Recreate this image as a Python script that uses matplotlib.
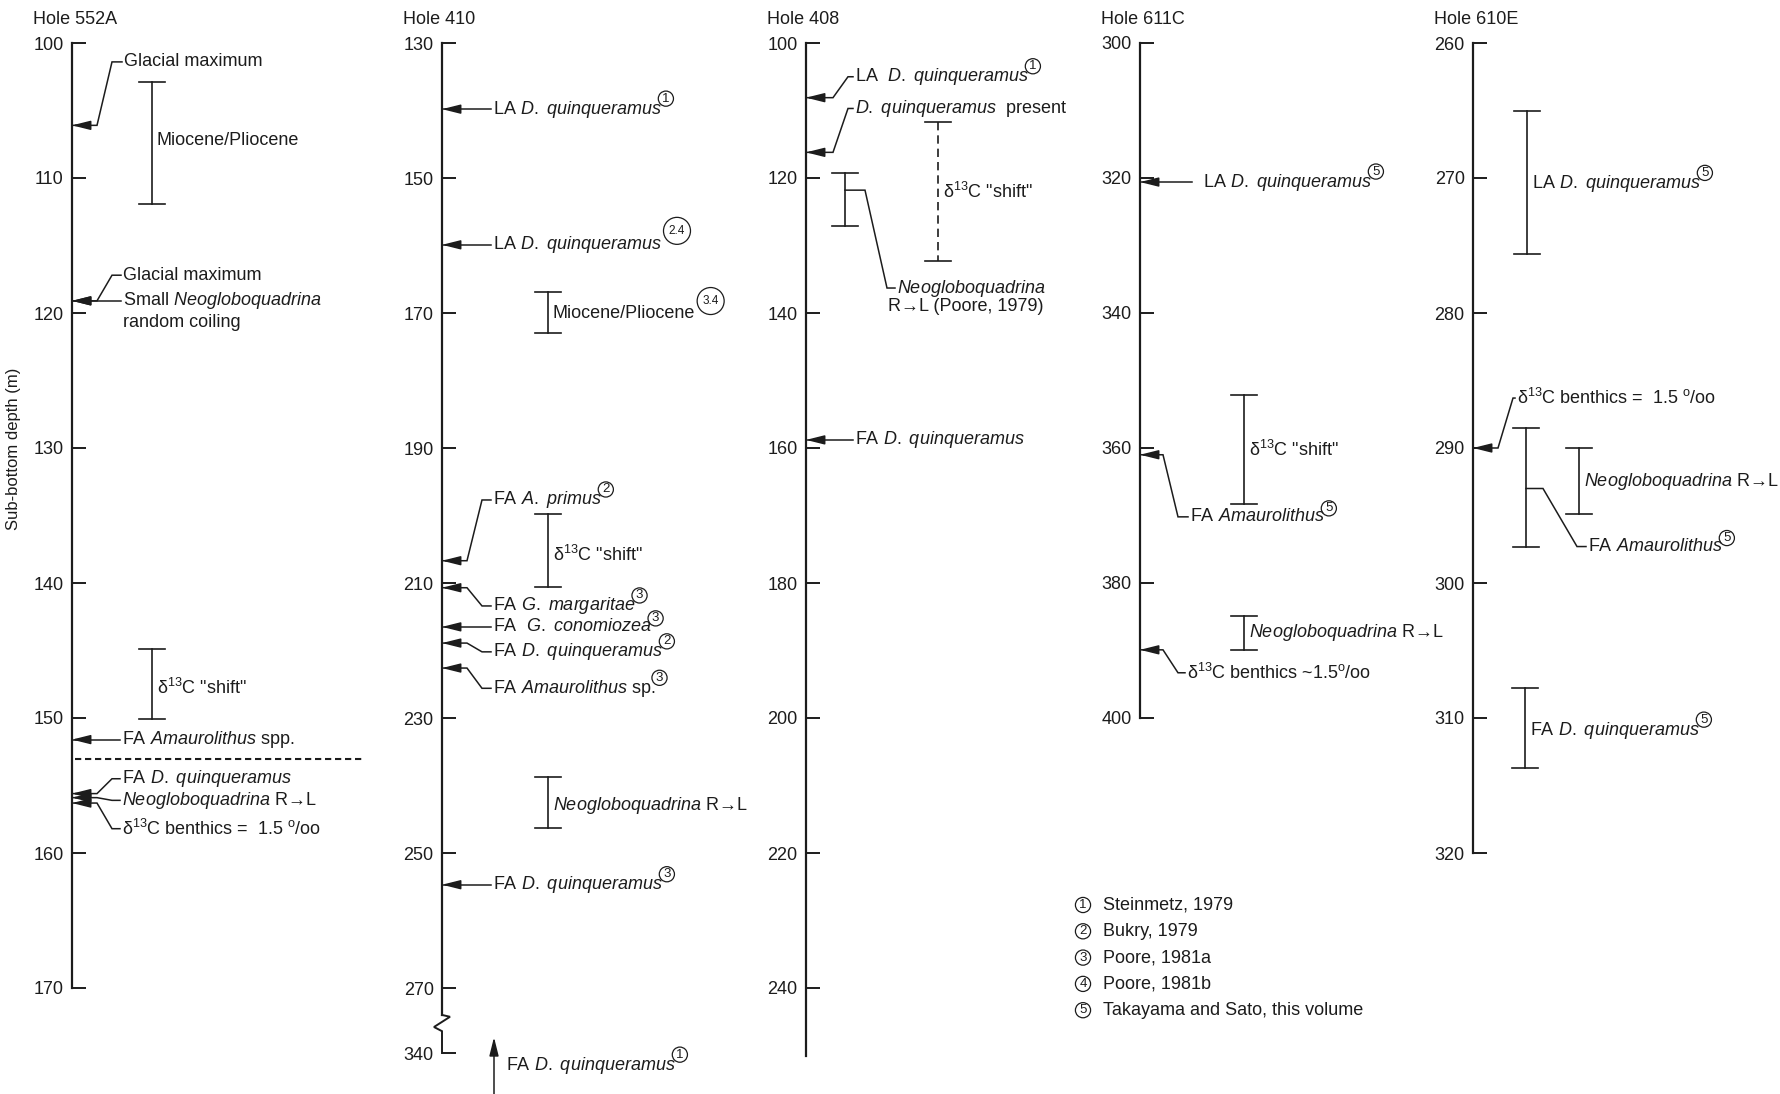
from __future__ import annotations

import matplotlib

matplotlib.use("Agg")
import matplotlib.pyplot as plt
import numpy as np

plt.rcParams["font.family"] = ["Liberation Sans", "DejaVu Sans"]
plt.rcParams["mathtext.fontset"] = "custom"
plt.rcParams["mathtext.rm"] = "Liberation Sans"
plt.rcParams["mathtext.it"] = "Liberation Sans:italic"
plt.rcParams["mathtext.default"] = "regular"

INK = "#1c1c1c"
FS = 13
REF_FS = 9.5

# --- layout (pixels at 100 dpi) ---
FIG_W, FIG_H = 1781, 1094
TOP_PX = 43  # y of first tick in every column
COL_X = [72, 442, 806, 1140, 1473]
COL_W = [340, 340, 310, 320, 300]
PX_PER_M = [13.5, 6.75, 6.75, 6.75, 13.5]
BEND = [25, 25, 27, 23, 25]

# --- data ---
HOLES = ["Hole 552A", "Hole 410", "Hole 408", "Hole 611C", "Hole 610E"]
TICKS = [
    [100, 110, 120, 130, 140, 150, 160, 170],
    [130, 150, 170, 190, 210, 230, 250, 270, 340],
    [100, 120, 140, 160, 180, 200, 220, 240],
    [300, 320, 340, 360, 380, 400],
    [260, 270, 280, 290, 300, 310, 320],
]
AXIS_END = [170, 340, 250, 400, 320]

DQ = r"$\mathit{D.\ quinqueramus}$"
NEO = r"$\mathit{Neogloboquadrina}$"
AMA = r"$\mathit{Amaurolithus}$"
RL = "R\u2192L"
SHIFT = r'$\delta^{13}$C "shift"'
PERMIL = r"$^{o}$/oo"

# pointer events: (depth, label, reference)
EVENTS = [
    [
        (106.1, "Glacial maximum", ""),
        (119.1, "Glacial maximum", ""),
        (119.1, "Small " + NEO, ""),
        (151.6, "FA " + AMA + " spp.", ""),
        (155.6, "FA " + DQ, ""),
        (155.9, NEO + " " + RL, ""),
        (156.3, r"$\delta^{13}$C benthics =  1.5 " + PERMIL, ""),
    ],
    [
        (139.8, "LA " + DQ, "1"),
        (159.9, "LA " + DQ, "2.4"),
        (206.7, r"FA $\mathit{A.\ primus}$", "2"),
        (210.7, r"FA $\mathit{G.\ margaritae}$", "3"),
        (216.5, r"FA  $\mathit{G.\ conomiozea}$", "3"),
        (218.9, "FA " + DQ, "2"),
        (222.6, "FA " + AMA + " sp.", "3"),
        (254.7, "FA " + DQ, "3"),
    ],
    [
        (108.1, "LA  " + DQ, "1"),
        (116.2, DQ + "  present", ""),
        (158.8, "FA " + DQ, ""),
    ],
    [
        (320.6, "LA " + DQ, "5"),
        (361.0, "FA " + AMA, "5"),
        (389.9, r"$\delta^{13}$C benthics ~1.5" + PERMIL, ""),
    ],
    [
        (290.0, r"$\delta^{13}$C benthics =  1.5 " + PERMIL, ""),
    ],
]
# where each pointer label sits (depth) and starts (px right of the axis)
EVENT_TEXT_Y = [
    [101.4, 117.2, 119.1, 151.6, 154.5, 156.1, 158.2],
    [139.8, 159.9, 197.7, 213.4, 216.5, 220.2, 225.6, 254.7],
    [105.0, 109.7, 158.8],
    [320.6, 370.2, 393.3],
    [286.3],
]
EVENT_TEXT_X = [
    [52, 51, 51, 50, 50, 50, 50],
    [51, 51, 51, 51, 51, 51, 51, 51],
    [49, 49, 49],
    [63, 50, 47],
    [44],
]

# range bars: (top, bottom, label, reference)
RANGES = [
    [(102.9, 111.9, "Miocene/Pliocene", ""), (144.9, 150.1, SHIFT, "")],
    [
        (166.9, 173.0, "Miocene/Pliocene", "3.4"),
        (199.8, 210.6, SHIFT, ""),
        (238.7, 246.3, NEO + " " + RL, ""),
    ],
    [(119.3, 127.1, NEO, ""), (111.7, 132.3, SHIFT, "")],
    [(352.1, 368.3, SHIFT, ""), (384.9, 389.9, NEO + " " + RL, "")],
    [
        (265.0, 275.6, "LA " + DQ, "5"),
        (288.5, 297.3, "FA " + AMA, "5"),
        (290.0, 294.9, NEO + " " + RL, ""),
        (307.8, 313.7, "FA " + DQ, "5"),
    ],
]
RANGE_X = [[80, 80], [106, 106, 106], [39, 132], [104, 104], [54, 53, 106, 52]]
RANGE_TEXT_Y = [
    [107.2, 147.8],
    [170.0, 205.9, 242.9],
    [136.3, 122.0],
    [360.3, 387.4],
    [270.4, 297.3, 292.5, 310.9],
]
DASHED_RANGES = {(2, 1)}
# bars whose label hangs on a leader: (branch depth, knee dx, foot dx, text dx)
BRANCHES = {(2, 0): (121.8, 20, 42, 52), (4, 1): (293.0, 17, 51, 62)}

# free text lines: (hole, depth, px right of axis, text)
NOTES = [
    (0, 120.7, 51, "random coiling"),
    (2, 139.1, 82, RL + " (Poore, 1979)"),
]

REFS = [
    "Steinmetz, 1979",
    "Bukry, 1979",
    "Poore, 1981a",
    "Poore, 1981b",
    "Takayama and Sato, this volume",
]


def fwd_410(d):
    return np.interp(d, [0, 270, 340, 2000], [0, 270, 279.63, 1939.63])


def inv_410(t):
    return np.interp(t, [0, 270, 279.63, 1939.63], [0, 270, 340, 2000])


def add_ref(ax, txt, ref):
    big = len(ref) > 1
    ax.annotate(
        ref,
        xy=(1, 1),
        xycoords=txt,
        xytext=(11, 2.5) if big else (3, 0),
        textcoords="offset points",
        ha="center",
        va="center",
        fontsize=REF_FS - (1 if big else 0),
        color=INK,
        bbox=dict(
            boxstyle=f"circle,pad={0.45 if big else 0.12}",
            fc="none",
            ec=INK,
            lw=0.9,
        ),
    )


def arrowhead(ax, x, y, x0, y0):
    ax.annotate(
        "",
        xy=(x, y),
        xytext=(x0, y0),
        arrowprops=dict(
            arrowstyle="-|>,head_length=0.8,head_width=0.2",
            mutation_scale=14,
            color=INK,
            lw=1.1,
            shrinkA=0,
            shrinkB=0,
        ),
        annotation_clip=False,
    )


def label(ax, x, y, text, ref=""):
    t = ax.text(x, y, text, ha="left", va="center", fontsize=FS, color=INK)
    if ref:
        add_ref(ax, t, ref)
    return t


fig = plt.figure(figsize=(FIG_W / 100, FIG_H / 100), dpi=100)
fig.patch.set_facecolor("white")

for i, hole in enumerate(HOLES):
    ax = fig.add_axes([COL_X[i] / FIG_W, 0, COL_W[i] / FIG_W, 1])
    ax.patch.set_visible(False)
    ax.set_xlim(0, COL_W[i])
    ppm = PX_PER_M[i]
    top = TICKS[i][0]
    t_top = top - TOP_PX / ppm
    t_bot = top + (FIG_H - TOP_PX) / ppm
    if i == 1:
        ax.set_yscale("function", functions=(fwd_410, inv_410))
        ax.set_ylim(float(inv_410(t_bot)), float(inv_410(t_top)))
    else:
        ax.set_ylim(t_bot, t_top)

    for side in ("top", "right", "bottom"):
        ax.spines[side].set_visible(False)
    ax.spines["left"].set_bounds(top, AXIS_END[i])
    ax.spines["left"].set_linewidth(1.6)
    ax.spines["left"].set_color(INK)
    ax.set_xticks([])
    ax.set_yticks(TICKS[i])
    ax.set_yticklabels([str(v) for v in TICKS[i]])
    ax.tick_params(
        axis="y", direction="in", length=10, width=1.4, pad=6,
        labelsize=FS, colors=INK,
    )
    ax.text(
        -39, 1 - 20 / FIG_H, hole, transform=ax.get_xaxis_transform(),
        ha="left", va="center", fontsize=FS, color=INK,
    )

    if i == 1:
        # broken depth axis 270 -> 340
        ax.spines["left"].set_visible(False)
        ax.plot([0, 0], [top, 299], color=INK, lw=1.6, clip_on=False)
        ax.plot(
            [0, 8, -8, 0, 0], [299, 301, 312, 316.5, 340],
            color=INK, lw=1.4, clip_on=False, solid_joinstyle="miter",
        )
        label(ax, 64, 341.8, "FA " + DQ, "1")
        arrowhead(ax, 52, 323, 52, float(inv_410(t_bot)))

    bend = BEND[i]
    for (depth, text, ref), ty, tx in zip(EVENTS[i], EVENT_TEXT_Y[i], EVENT_TEXT_X[i]):
        if abs(ty - depth) < 1e-6:
            end = tx - 11 if tx > 55 else tx - 2
            xs, ys = [0, end], [depth, depth]
        else:
            xs = [0, bend, bend + 15, tx - 2]
            ys = [depth, depth, ty, ty]
        ax.plot(xs, ys, color=INK, lw=1.1, clip_on=False, solid_joinstyle="miter")
        arrowhead(ax, 0, depth, 14, depth)
        label(ax, tx, ty, text, ref)

    for j, ((d0, d1, text, ref), bx, ty) in enumerate(zip(RANGES[i], RANGE_X[i], RANGE_TEXT_Y[i])):
        ls = (0, (5, 3)) if (i, j) in DASHED_RANGES else "-"
        ax.plot([bx, bx], [d0, d1], color=INK, lw=1.2, ls=ls, clip_on=False)
        for d in (d0, d1):
            ax.plot([bx - 13, bx + 13], [d, d], color=INK, lw=1.2, clip_on=False)
        if (i, j) in BRANCHES:
            bd, knee, foot, tdx = BRANCHES[(i, j)]
            ax.plot(
                [bx, bx + knee, bx + foot, bx + tdx - 2], [bd, bd, ty, ty],
                color=INK, lw=1.1, clip_on=False, solid_joinstyle="miter",
            )
            label(ax, bx + tdx, ty, text, ref)
        else:
            label(ax, bx + 5, ty, text, ref)

    for hi, depth, x, text in NOTES:
        if hi == i:
            label(ax, x, depth, text)

    if i == 0:
        ax.plot([3, 291], [153.0, 153.0], color=INK, lw=1.5, ls=(0, (3, 1.8)), clip_on=False)

fig.text(
    14 / FIG_W, 1 - 449 / FIG_H, "Sub-bottom depth (m)", rotation=90,
    ha="center", va="center", fontsize=12, color=INK,
)

for k, ref in enumerate(REFS):
    y = 1 - (905 + 26.3 * k) / FIG_H
    fig.text(
        1083 / FIG_W, y, str(k + 1), ha="center", va="center", fontsize=REF_FS,
        color=INK, bbox=dict(boxstyle="circle,pad=0.12", fc="none", ec=INK, lw=0.9),
    )
    fig.text(1103 / FIG_W, y, ref, ha="left", va="center", fontsize=FS, color=INK)

fig.savefig("out.png", dpi=100, facecolor="white")
